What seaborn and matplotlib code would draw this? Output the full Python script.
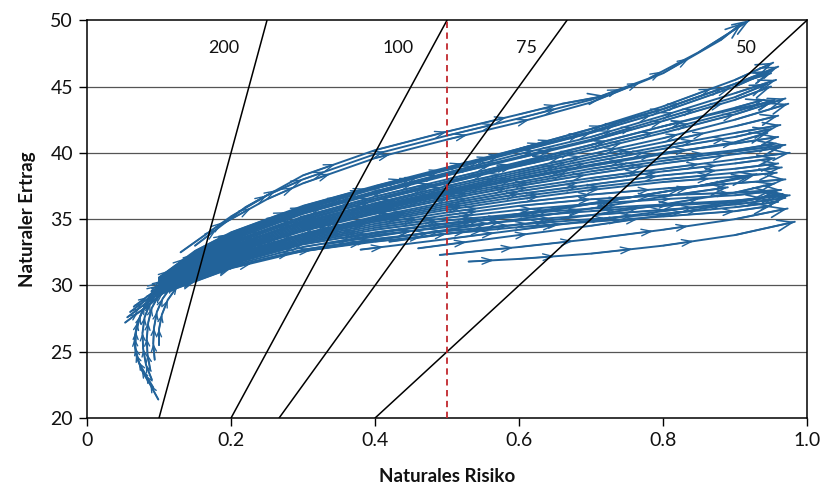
import matplotlib
matplotlib.use("Agg")
import matplotlib.pyplot as plt
import seaborn as sns
import pandas as pd

# ---------------- data ----------------
x_ticks = [0, 0.2, 0.4, 0.6, 0.8, 1.0]
x_tick_labels = ["0", "0.2", "0.4", "0.6", "0.8", "1.0"]
y_ticks = [20, 25, 30, 35, 40, 45, 50]

# iso-lines: rate label and the risk value where they meet return = 20
iso_rates = [200, 100, 75, 50]
iso_x0 = [0.10, 0.20, 0.2667, 0.40]
iso_label_x = [0.212, 0.453, 0.625, 0.93]

marker_risk = 0.5

# main band grid (risk) shared by the M curves; last value per curve is the end risk
grid_x = [0.10, 0.15, 0.20, 0.30, 0.40, 0.50, 0.60, 0.70, 0.80, 0.90]
main_end_x = [0.953, 0.950, 0.957, 0.950, 0.940, 0.970, 0.974, 0.963, 0.960, 0.957,
              0.963, 0.976, 0.960, 0.958, 0.964, 0.976, 0.950, 0.955, 0.945,
              0.960, 0.945, 0.955, 0.960, 0.950, 0.970, 0.955, 0.965, 0.970, 0.950,
              0.970, 0.960, 0.950, 0.940]
main_y = [
    [30.6, 32.6, 34.0, 36.0, 37.5, 38.9, 40.3, 41.8, 43.5, 45.5, 46.8],
    [30.5, 32.4, 33.8, 35.8, 37.3, 38.7, 40.1, 41.5, 43.1, 45.0, 46.2],
    [30.4, 32.2, 33.6, 35.6, 37.1, 38.5, 39.9, 41.2, 42.8, 44.5, 45.5],
    [30.3, 32.0, 33.4, 35.4, 36.9, 38.3, 39.6, 40.9, 42.4, 44.0, 45.0],
    [30.2, 31.9, 33.3, 35.2, 36.7, 38.0, 39.3, 40.6, 42.0, 43.4, 44.0],
    [30.1, 31.8, 33.1, 35.0, 36.4, 37.7, 39.0, 40.2, 41.5, 42.9, 44.1],
    [30.0, 31.7, 33.0, 34.8, 36.2, 37.5, 38.7, 39.9, 41.1, 42.5, 43.7],
    [29.9, 31.5, 32.8, 34.6, 36.0, 37.2, 38.4, 39.5, 40.5, 41.5, 42.1],
    [29.8, 31.4, 32.6, 34.4, 35.8, 37.0, 38.1, 39.1, 40.0, 40.7, 41.2],
    [29.8, 31.3, 32.5, 34.2, 35.6, 36.8, 37.8, 38.8, 39.6, 40.2, 40.7],
    [29.7, 31.2, 32.4, 34.1, 35.4, 36.5, 37.5, 38.4, 39.2, 39.9, 40.4],
    [29.7, 31.1, 32.3, 33.9, 35.2, 36.3, 37.3, 38.1, 38.8, 39.5, 40.0],
    [29.6, 31.0, 32.2, 33.8, 35.0, 36.0, 36.9, 37.6, 38.3, 38.8, 39.2],
    [29.6, 30.9, 32.0, 33.6, 34.8, 35.7, 36.5, 37.2, 37.8, 38.2, 38.5],
    [29.5, 30.8, 31.9, 33.4, 34.5, 35.3, 36.0, 36.5, 36.8, 37.0, 37.2],
    [29.5, 30.7, 31.7, 33.2, 34.2, 34.9, 35.4, 35.8, 36.1, 36.4, 36.8],
    [30.4, 32.3, 33.7, 35.7, 37.3, 38.8, 40.3, 41.8, 43.3, 45.2, 46.0],
    [30.0, 31.6, 32.9, 34.9, 36.4, 37.8, 39.2, 40.6, 42.0, 43.3, 43.9],
    [29.8, 31.3, 32.5, 34.3, 35.7, 36.9, 38.0, 39.0, 39.9, 40.8, 41.5],
    [30.55, 32.5, 33.9, 35.9, 37.4, 38.8, 40.2, 41.6, 43.3, 45.2, 46.5],
    [30.35, 32.1, 33.5, 35.5, 37.0, 38.4, 39.7, 41.0, 42.6, 44.2, 45.2],
    [30.15, 31.85, 33.2, 35.1, 36.55, 37.85, 39.1, 40.4, 41.7, 43.1, 44.0],
    [29.95, 31.6, 32.9, 34.7, 36.1, 37.35, 38.55, 39.7, 40.8, 42.0, 42.8],
    [29.85, 31.45, 32.7, 34.5, 35.9, 37.1, 38.25, 39.3, 40.3, 41.2, 41.8],
    [29.75, 31.25, 32.45, 34.15, 35.5, 36.65, 37.65, 38.6, 39.4, 40.1, 40.6],
    [29.65, 31.05, 32.25, 33.85, 35.1, 36.15, 37.1, 37.9, 38.6, 39.2, 39.6],
    [29.6, 30.95, 32.1, 33.7, 34.9, 35.85, 36.7, 37.4, 38.0, 38.5, 38.9],
    [29.55, 30.85, 31.95, 33.5, 34.65, 35.5, 36.25, 36.85, 37.3, 37.7, 38.0],
    [29.5, 30.75, 31.8, 33.3, 34.35, 35.1, 35.7, 36.15, 36.5, 36.8, 37.1],
    [29.4, 30.5, 31.5, 32.9, 33.8, 34.4, 34.9, 35.3, 35.7, 36.1, 36.6],
    [29.4, 30.4, 31.4, 32.7, 33.5, 34.1, 34.6, 35.0, 35.4, 35.9, 36.3],
    [29.3, 30.3, 31.3, 32.6, 33.3, 33.9, 34.4, 34.8, 35.2, 35.6, 36.0],
    [29.5, 30.6, 31.6, 33.1, 34.0, 34.7, 35.2, 35.6, 36.0, 36.3, 36.6],
]

# top branch curves
top_x = [
    [0.13, 0.20, 0.25, 0.30, 0.40, 0.50, 0.60, 0.70, 0.78, 0.85, 0.92],
    [0.15, 0.22, 0.30, 0.40, 0.50, 0.60, 0.66, 0.72],
    [0.18, 0.25, 0.30, 0.40, 0.50, 0.60, 0.70, 0.80, 0.88, 0.91],
]
top_y = [
    [32.5, 35.2, 36.8, 38.0, 39.9, 41.3, 42.6, 44.0, 45.6, 47.6, 50.0],
    [33.0, 35.9, 38.3, 40.2, 41.6, 42.9, 43.7, 44.3],
    [34.4, 36.5, 37.7, 39.6, 41.0, 42.3, 43.8, 46.0, 48.5, 49.8],
]

# curves starting in the middle of the chart (lower lines)
low_x = [
    [0.53, 0.60, 0.70, 0.80, 0.90, 0.983],
    [0.49, 0.60, 0.70, 0.80, 0.90, 0.973],
    [0.38, 0.50, 0.60, 0.70, 0.80, 0.90, 0.966],
    [0.28, 0.40, 0.50, 0.60, 0.70, 0.80, 0.89],
    [0.46, 0.60, 0.70, 0.80, 0.90, 0.960],
    [0.33, 0.45, 0.55, 0.65, 0.75, 0.85, 0.93],
    [0.42, 0.50, 0.60, 0.70, 0.80, 0.90, 0.955],
    [0.36, 0.45, 0.55, 0.65, 0.75, 0.85, 0.92],
]
low_y = [
    [31.8, 32.0, 32.4, 33.0, 33.8, 34.8],
    [32.3, 32.9, 33.5, 34.2, 35.0, 35.8],
    [32.7, 33.5, 34.2, 34.9, 35.6, 36.3, 36.9],
    [32.4, 33.4, 34.2, 35.0, 35.8, 36.7, 37.4],
    [32.8, 33.8, 34.5, 35.3, 36.2, 36.9],
    [33.1, 34.1, 34.9, 35.7, 36.6, 37.5, 38.4],
    [33.3, 33.9, 34.6, 35.3, 36.1, 37.0, 37.7],
    [33.6, 34.3, 35.0, 35.8, 36.6, 37.5, 38.2],
]

# hook curves in the lower left
hook_x = [
    [0.099, 0.088, 0.076, 0.068, 0.066, 0.070, 0.080, 0.095, 0.115],
    [0.092, 0.082, 0.072, 0.067, 0.068, 0.074, 0.085, 0.100, 0.120],
    [0.090, 0.082, 0.078, 0.077, 0.080, 0.088, 0.100, 0.118],
    [0.088, 0.084, 0.083, 0.085, 0.090, 0.100, 0.115],
    [0.094, 0.092, 0.093, 0.097, 0.105, 0.118],
    [0.100, 0.100, 0.104, 0.112, 0.125],
    [0.053, 0.070, 0.088, 0.105],
    [0.056, 0.073, 0.090, 0.108],
    [0.060, 0.077, 0.094, 0.110],
    [0.065, 0.082, 0.100, 0.115],
]
hook_y = [
    [21.4, 22.5, 23.6, 24.8, 26.0, 27.2, 28.4, 29.5, 30.3],
    [22.3, 23.2, 24.2, 25.3, 26.5, 27.7, 28.9, 29.8, 30.5],
    [22.9, 24.0, 25.2, 26.4, 27.6, 28.7, 29.6, 30.3],
    [23.6, 24.8, 26.0, 27.2, 28.3, 29.3, 30.1],
    [24.4, 25.6, 26.8, 28.0, 29.0, 30.0],
    [25.5, 26.7, 27.8, 28.9, 29.9],
    [27.2, 27.9, 28.6, 29.4],
    [27.6, 28.3, 29.0, 29.7],
    [28.0, 28.7, 29.4, 30.0],
    [28.4, 29.1, 29.8, 30.4],
]

# ---------------- build table ----------------
rows = []
cid = 0
for ys, xe in zip(main_y, main_end_x):
    xs = grid_x + [xe]
    for k, (xv, yv) in enumerate(zip(xs, ys)):
        rows.append((cid, k, xv, yv, "main"))
    cid += 1
for grp, XS, YS in (("top", top_x, top_y), ("low", low_x, low_y), ("hook", hook_x, hook_y)):
    for xs, ys in zip(XS, YS):
        for k, (xv, yv) in enumerate(zip(xs, ys)):
            rows.append((cid, k, xv, yv, grp))
        cid += 1
df = pd.DataFrame(rows, columns=["curve", "step", "risk", "ret", "group"])

iso_rows = []
for r, x0 in zip(iso_rates, iso_x0):
    iso_rows.append((r, x0, 20.0))
    iso_rows.append((r, x0 + 30.0 / r, 50.0))
iso_df = pd.DataFrame(iso_rows, columns=["rate", "risk", "ret"])

# ---------------- plot ----------------
sns.set_theme(style="white")
plt.rcParams["font.family"] = ["Lato", "DejaVu Sans"]

blue = "#22639a"
fig = plt.figure(figsize=(8.24, 4.93), dpi=100)
ax = fig.add_axes([0.1056, 0.152, 0.8738, 0.807])

for yv in y_ticks[1:-1]:
    ax.axhline(yv, color="#555555", lw=0.9, zorder=1)

sns.lineplot(data=df, x="risk", y="ret", units="curve", estimator=None, sort=False,
             color=blue, lw=1.4, ax=ax, legend=False, zorder=2)

# stagger of the mid-curve arrow heads (points set back from each vertex)
stagger = [0, 18, 34, 9, 26, 42, 4, 22, 38, 13, 30, 46, 7]
for c, g in df.groupby("curve"):
    pts = g.sort_values("step")[["risk", "ret", "group"]].values
    grp = pts[0][2]
    n = len(pts)
    for i in range(1, n):
        last = i == n - 1
        if grp == "hook":
            style = "->,head_length=0.35,head_width=0.15"
            sb = 0
            lw = 1.0
        elif last:
            style = "->,head_length=0.9,head_width=0.33"
            sb = 0
            lw = 1.2
        else:
            style = "->,head_length=0.6,head_width=0.2"
            sb = stagger[(int(c) * 5 + i * 3) % len(stagger)]
            lw = 1.0
        ax.annotate("", xy=(pts[i][0], pts[i][1]), xytext=(pts[i - 1][0], pts[i - 1][1]),
                    arrowprops=dict(arrowstyle=style, color=blue, lw=lw,
                                    shrinkA=0, shrinkB=sb), zorder=3)

sns.lineplot(data=iso_df, x="risk", y="ret", units="rate", estimator=None, sort=False,
             color="black", lw=1.1, ax=ax, legend=False, zorder=4)
for r, lx in zip(iso_rates, iso_label_x):
    ax.text(lx, 47.9, str(r), ha="right", va="center", fontsize=13, color="#111111", zorder=5)

ax.plot([marker_risk, marker_risk], [20, 50], color="#c1272d", lw=1.3,
        ls=(0, (3.5, 2.5)), zorder=5)

ax.set_xlim(0, 1.0)
ax.set_ylim(20, 50)
ax.set_xticks(x_ticks)
ax.set_xticklabels(x_tick_labels)
ax.set_yticks(y_ticks)
ax.tick_params(axis="both", direction="out", length=6, width=1, color="black",
               labelsize=14, labelcolor="#111111", bottom=True, left=True, pad=4)
for s in ax.spines.values():
    s.set_color("black")
    s.set_linewidth(1.1)
ax.set_xlabel("Naturales Risiko", fontsize=13.5, fontweight="bold", labelpad=14, color="#111111")
ax.set_ylabel("Naturaler Ertrag", fontsize=13.5, fontweight="bold", labelpad=10, color="#111111")

fig.savefig("out.png", dpi=100)
